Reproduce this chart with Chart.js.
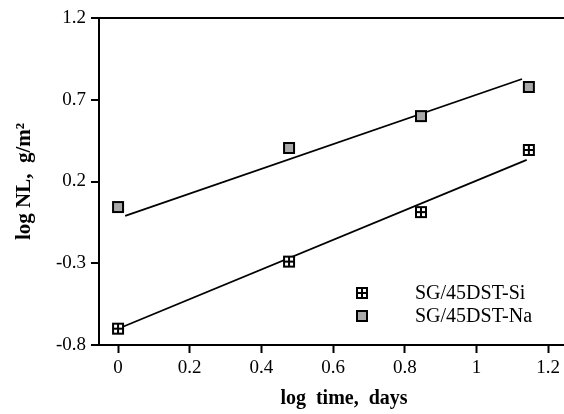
<!DOCTYPE html>
<html>
<head>
<meta charset="utf-8">
<script src="https://cdn.jsdelivr.net/npm/chart.js@4/dist/chart.umd.min.js"></script>
<style>
  body { margin: 0; background: #fff; }
</style>
</head>
<body>
<canvas id="chart" width="564" height="414"></canvas>
<script>
// log of leaching time (1, 3, 7, 14 days)
const logTime = [0, 0.477, 0.845, 1.146];
const siValues = [-0.70, -0.29, 0.013, 0.393];
const naValues = [0.044, 0.405, 0.60, 0.778];

// fitted lines, end points
const siFitX = [0.012, 1.14];
const siFitY = [-0.69, 0.332];
const naFitX = [0.02, 1.127];
const naFitY = [-0.01, 0.827];

const xTicks = [0, 0.2, 0.4, 0.6, 0.8, 1, 1.2];
const yTicks = [-0.8, -0.3, 0.2, 0.7, 1.2];

const seriesNames = ['SG/45DST-Si', 'SG/45DST-Na'];
const xTitle = 'log  time,  days';
const yTitle = 'log NL,  g/m\u00b2';

const serif = '"Liberation Serif", "Times New Roman", serif';

function makeMarker(fill, cross) {
  const c = document.createElement('canvas');
  c.width = 14; c.height = 14;
  const g = c.getContext('2d');
  g.fillStyle = '#000';
  g.fillRect(1, 1, 12, 12);
  g.fillStyle = fill;
  g.fillRect(3, 3, 8, 8);
  if (cross) {
    g.fillStyle = '#000';
    g.fillRect(6, 3, 2, 8);
    g.fillRect(3, 6, 8, 2);
  }
  return c;
}
const siMarker = makeMarker('#fff', true);
const naMarker = makeMarker('#a9a9a9', false);

const toPoints = (xs, ys) => xs.map((x, i) => ({x: x, y: ys[i]}));

// legend inside the plot + x axis title
const extras = {
  id: 'extras',
  afterDraw(chart) {
    const ctx = chart.ctx;
    const items = [[siMarker, seriesNames[0]], [naMarker, seriesNames[1]]];
    ctx.save();
    ctx.font = '20px ' + serif;
    ctx.fillStyle = '#000';
    ctx.textBaseline = 'middle';
    items.forEach((it, i) => {
      const y = 293 + i * 23;
      ctx.drawImage(it[0], 355, y - 7);
      ctx.fillText(it[1], 415, y + 1);
    });
    ctx.font = 'bold 20px ' + serif;
    ctx.textAlign = 'center';
    ctx.fillText(xTitle, 344, 399);
    ctx.restore();
  }
};

new Chart(document.getElementById('chart'), {
  type: 'scatter',
  data: {
    datasets: [
      {
        label: seriesNames[0],
        data: toPoints(logTime, siValues),
        pointStyle: siMarker,
        pointRadius: 7
      },
      {
        label: seriesNames[1],
        data: toPoints(logTime, naValues),
        pointStyle: naMarker,
        pointRadius: 7
      },
      {
        label: 'fit Si',
        data: toPoints(siFitX, siFitY),
        showLine: true,
        borderColor: '#000',
        borderWidth: 1.8,
        pointRadius: 0
      },
      {
        label: 'fit Na',
        data: toPoints(naFitX, naFitY),
        showLine: true,
        borderColor: '#000',
        borderWidth: 1.8,
        pointRadius: 0
      }
    ]
  },
  options: {
    responsive: false,
    animation: false,
    layout: { autoPadding: false, padding: { top: 18, right: 0, left: 0, bottom: 0 } },
    plugins: {
      legend: { display: false },
      tooltip: { enabled: false }
    },
    scales: {
      x: {
        type: 'linear',
        min: -0.053,
        max: 1.244,
        afterBuildTicks: (scale) => { scale.ticks = xTicks.map(v => ({value: v})); },
        afterFit: (scale) => {
          scale.height = 69;
          scale.paddingRight = 0;
          scale.paddingLeft = 0;
        },
        grid: { drawOnChartArea: false, drawTicks: true, tickLength: 8, tickColor: '#000', tickWidth: 2 },
        border: { display: true, color: '#000', width: 2 },
        ticks: {
          color: '#000',
          font: { family: serif, size: 19 },
          padding: 4,
          maxRotation: 0,
          callback: (v) => String(v)
        }
      },
      y: {
        type: 'linear',
        min: -0.8,
        max: 1.2,
        afterBuildTicks: (scale) => { scale.ticks = yTicks.map(v => ({value: v})); },
        afterFit: (scale) => { scale.width = 99; },
        grid: {
          drawOnChartArea: true,
          drawTicks: true,
          tickLength: 8,
          tickColor: '#000',
          tickWidth: 2,
          lineWidth: 2,
          color: (c) => (c.tick && c.tick.value === 1.2 ? '#000' : 'rgba(0,0,0,0)')
        },
        border: { display: true, color: '#000', width: 2 },
        ticks: {
          color: '#000',
          font: { family: serif, size: 19 },
          padding: 5,
          callback: (v) => v.toFixed(1)
        },
        title: {
          display: true,
          text: yTitle,
          color: '#000',
          font: { family: serif, size: 21, weight: 'bold' },
          padding: { top: 12, bottom: 0 }
        }
      }
    }
  },
  plugins: [extras]
});
</script>
</body>
</html>
